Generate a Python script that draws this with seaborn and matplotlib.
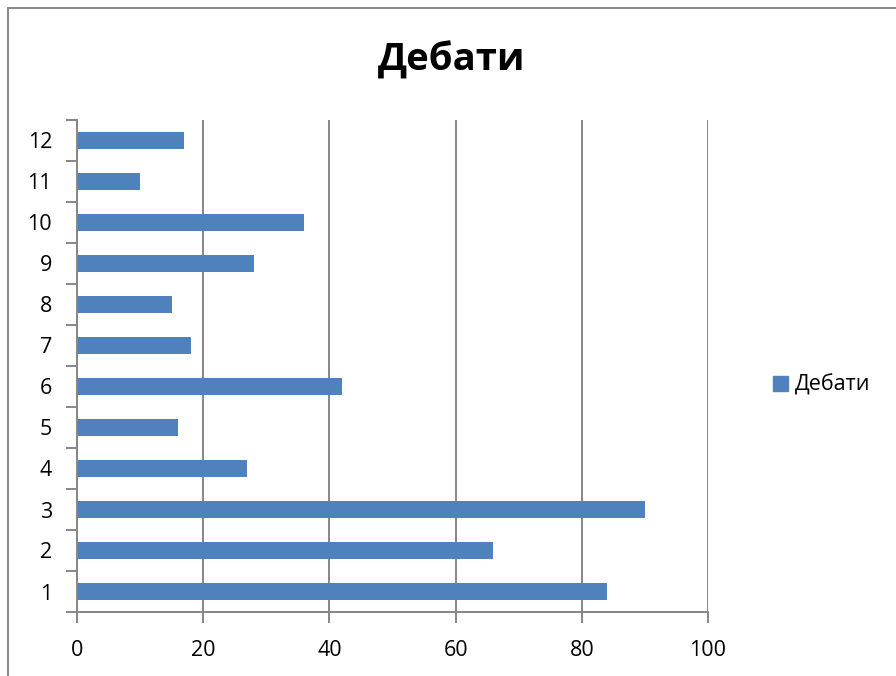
import pandas as pd
import matplotlib.pyplot as plt
import seaborn as sns
from matplotlib.patches import Rectangle
from matplotlib.ticker import MultipleLocator

# --------------------------
# Data
# --------------------------

categories = ["1", "2", "3", "4", "5", "6", "7", "8", "9", "10", "11", "12"]
values = [84, 66, 90, 27, 16, 42, 18, 15, 28, 36, 10, 17]
series_name = "Дебати"

df = pd.DataFrame({
    "cat": categories,
    "val": values,
    "series": series_name
})

# --------------------------
# Style
# --------------------------

sns.set_style("white")
plt.rcParams["font.family"] = ["Open Sans", "DejaVu Sans"]
plt.rcParams["text.color"] = "black"
plt.rcParams["xtick.color"] = "black"
plt.rcParams["ytick.color"] = "black"

bar_color = "#4F81BD"
line_color = "#868686"

fig = plt.figure(figsize=(8.96, 6.76), dpi=100)
ax = fig.add_axes([77 / 896, 1 - 612 / 676, (708 - 77) / 896, (612 - 120) / 676])

sns.barplot(
    data=df,
    x="val",
    y="cat",
    order=categories[::-1],
    color=bar_color,
    saturation=1,
    width=0.4,
    orient="h",
    linewidth=0,
    ax=ax
)

# --------------------------
# Axes
# --------------------------

ax.set_xlim(0, 100)
ax.set_ylim(len(categories) - 0.5, -0.5)
ax.xaxis.set_major_locator(MultipleLocator(20))
ax.grid(axis="x", color=line_color, linewidth=1.4)
ax.set_axisbelow(True)

for side in ["top", "right"]:
    ax.spines[side].set_visible(False)
for side in ["left", "bottom"]:
    ax.spines[side].set_color(line_color)
    ax.spines[side].set_linewidth(1.4)

ax.set_xlabel("")
ax.set_ylabel("")

# category labels at centers, tick marks between categories
ax.tick_params(axis="y", which="major", left=True, length=0, pad=18, labelsize=15.5)
ax.set_yticks([i - 0.5 for i in range(len(categories) + 1)], minor=True)
ax.tick_params(axis="y", which="minor", left=True, length=8, width=1.4,
               color=line_color, direction="out")
ax.tick_params(axis="x", which="major", bottom=True, length=8, width=1.4,
               color=line_color, labelcolor="black", pad=12, labelsize=15.5)

# --------------------------
# Title and legend
# --------------------------

fig.text(452 / 896, 1 - 60 / 676, series_name, ha="center", va="center",
         fontsize=27.5, fontweight="bold")

handle = Rectangle((0, 0), 1, 1, color=bar_color)
fig.legend([handle], [series_name], loc="center left",
           bbox_to_anchor=(754 / 896, 1 - 385 / 676), frameon=False,
           fontsize=15.5, handlelength=0.7, handleheight=0.7, handletextpad=0.3)

# chart border
fig.patches.append(Rectangle((8 / 896, -0.05), 1.1, 1 - 8 / 676 + 0.05,
                             transform=fig.transFigure, fill=False,
                             edgecolor=line_color, linewidth=1.4))

fig.savefig("out.png", dpi=100)
